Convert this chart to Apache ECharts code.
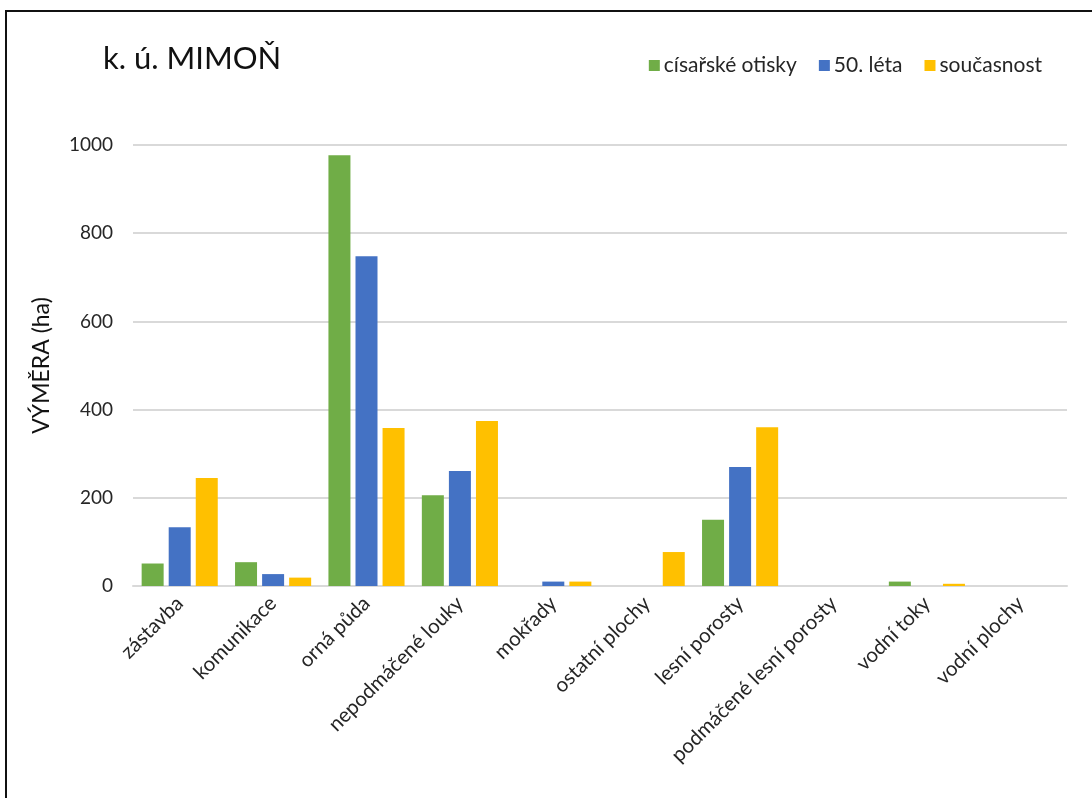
<!DOCTYPE html>
<html>
<head>
<meta charset="utf-8">
<script src="https://cdn.jsdelivr.net/npm/echarts@6/dist/echarts.min.js"></script>
<style>
html,body{margin:0;padding:0;width:1092px;height:798px;overflow:hidden;background:#fff;}
#frame{position:absolute;left:5px;top:10px;width:1200px;height:900px;border:2px solid #111;box-sizing:border-box;}
#chart{position:absolute;left:0;top:0;width:1092px;height:798px;}
</style>
</head>
<body>
<div id="frame"></div>
<div id="chart"></div>
<script>
const categories = ['zástavba','komunikace','orná půda','nepodmáčené louky','mokřady','ostatní plochy','lesní porosty','podmáčené lesní porosty','vodní toky','vodní plochy'];
const seriesNames = ['císařské otisky','50. léta','současnost'];
const cisarske = [51, 54, 977, 206, 0, 0, 150, 0, 10, 0];
const padesata = [133, 27, 748, 261, 10, 0, 270, 0, 0, 0];
const soucasnost = [245, 19, 358, 374, 10, 77, 360, 0, 5, 0];
const yTicks = [0, 200, 400, 600, 800, 1000];

const FONT = 'Lato, "Open Sans", sans-serif';
const colors = ['#70AD47', '#4472C4', '#FFC000'];
const chart = echarts.init(document.getElementById('chart'));
const values = [cisarske, padesata, soucasnost];
chart.setOption({
  animation: false,
  textStyle: {fontFamily: FONT},
  title: {
    text: 'k. ú. MIMOŇ', left: 98, top: 38,
    textStyle: {fontFamily: FONT, fontSize: 31, fontWeight: 'normal', color: '#111'}
  },
  legend: {
    data: seriesNames, right: 45, top: 50, itemWidth: 11, itemHeight: 11, itemGap: 22,
    icon: 'rect',
    textStyle: {fontFamily: FONT, fontSize: 21, color: '#262626', padding: [0,0,0,-1]}
  },
  grid: {left: 133, right: 25, top: 145, bottom: 212},
  xAxis: {
    type: 'category', data: categories,
    axisLine: {lineStyle: {color: '#D9D9D9', width: 2}},
    axisTick: {show: false},
    axisLabel: {rotate: 45, fontFamily: FONT, fontSize: 20.5, color: '#262626', margin: 14, interval: 0}
  },
  yAxis: {
    type: 'value', min: yTicks[0], max: yTicks[yTicks.length-1], interval: 200,
    name: 'VÝMĚRA (ha)', nameLocation: 'middle', nameGap: 80, nameRotate: 90,
    nameTextStyle: {fontFamily: FONT, fontSize: 23, color: '#111'},
    axisLine: {show: false}, axisTick: {show: false},
    axisLabel: {fontFamily: FONT, fontSize: 19, color: '#262626', margin: 20, formatter: v => String(v)},
    splitLine: {lineStyle: {color: '#D9D9D9', width: 2}}
  },
  series: seriesNames.map((n, i) => ({
    name: n, type: 'bar', data: values[i], barWidth: 22, barGap: '23%',
    itemStyle: {color: colors[i]}
  }))
});
</script>
</body>
</html>
